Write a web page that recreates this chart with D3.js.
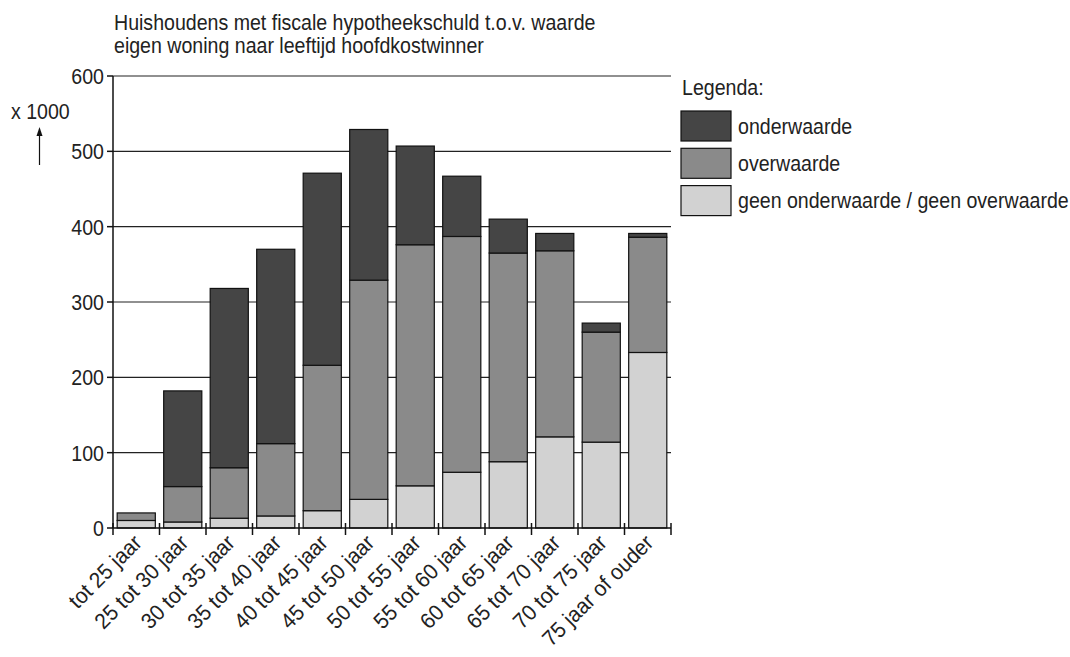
<!DOCTYPE html>
<html>
<head>
<meta charset="utf-8">
<script src="https://cdn.jsdelivr.net/npm/d3@7"></script>
<style>
  body { margin: 0; background: #fff; }
  svg text { font-family: "Liberation Sans", Arial, sans-serif; fill: #222; }
</style>
</head>
<body>
<svg width="1070" height="657"></svg>
<script>
// leeftijdsklassen
const categories = ["tot 25 jaar", "25 tot 30 jaar", "30 tot 35 jaar", "35 tot 40 jaar",
  "40 tot 45 jaar", "45 tot 50 jaar", "50 tot 55 jaar", "55 tot 60 jaar",
  "60 tot 65 jaar", "65 tot 70 jaar", "70 tot 75 jaar", "75 jaar of ouder"];
// x 1000 huishoudens
const geen = [10, 8, 13, 16, 23, 38, 56, 74, 88, 121, 114, 233];
const overwaarde = [10, 47, 67, 96, 193, 291, 320, 313, 277, 247, 146, 153];
const onderwaarde = [0, 127, 238, 258, 255, 200, 131, 80, 45, 23, 12, 5];
const yTicks = [0, 100, 200, 300, 400, 500, 600];
const seriesNames = ["onderwaarde", "overwaarde", "geen onderwaarde / geen overwaarde"];
const titleLines = ["Huishoudens met fiscale hypotheekschuld t.o.v. waarde",
  "eigen woning naar leeftijd hoofdkostwinner"];

const colors = { geen: "#d2d2d2", over: "#8a8a8a", onder: "#454545" };
const fs = 22.5, sx = 0.87; // smalle, hoge letters

let svg = d3.select("svg");
let x = d3.scaleBand().domain(categories).range([113, 671]).paddingInner(0.18).paddingOuter(0.09);
let y = d3.scaleLinear().domain([0, 600]).range([528, 76]);

function txt(g, s, tx, ty, anchor, rot, size, scx) {
  return g.append("text")
    .attr("transform", "translate(" + tx + "," + ty + ")" + (rot ? " rotate(" + rot + ")" : "") + " scale(" + (scx || sx) + ",1)")
    .attr("text-anchor", anchor || "start")
    .style("font-size", (size || fs) + "px")
    .text(s);
}

// titel
titleLines.forEach((t, i) => txt(svg, t, 114, 30 + i * 22.5));

// gridlijnen
svg.append("g").selectAll("line").data(yTicks.slice(1)).enter().append("line")
  .attr("x1", 113).attr("x2", 671)
  .attr("y1", d => y(d)).attr("y2", d => y(d))
  .style("stroke", "#222").style("stroke-width", 1.2);

// staven
let stack = d3.stack().keys(["geen", "over", "onder"]);
let rows = categories.map((c, i) => ({ cat: c, geen: geen[i], over: overwaarde[i], onder: onderwaarde[i] }));
let layers = stack(rows);
let bars = svg.append("g");
layers.forEach(layer => {
  bars.selectAll(null).data(layer.filter(d => d[1] > d[0])).enter().append("rect")
    .attr("x", d => x(d.data.cat))
    .attr("width", x.bandwidth())
    .attr("y", d => y(d[1]))
    .attr("height", d => y(d[0]) - y(d[1]))
    .style("fill", colors[layer.key])
    .style("stroke", "#111").style("stroke-width", 1.2);
});

// y-as
svg.append("line").attr("x1", 113).attr("x2", 113).attr("y1", y(600)).attr("y2", y(0))
  .style("stroke", "#111").style("stroke-width", 1.5);
let yt = svg.append("g");
yTicks.forEach(t => {
  yt.append("line").attr("x1", 107).attr("x2", 113).attr("y1", y(t)).attr("y2", y(t))
    .style("stroke", "#111").style("stroke-width", 1.5);
  txt(yt, t, 104, y(t) + 8, "end");
});

// x-as
svg.append("line").attr("x1", 113).attr("x2", 671).attr("y1", y(0)).attr("y2", y(0))
  .style("stroke", "#111").style("stroke-width", 1.5);
let step = x.step();
let bounds = d3.range(categories.length + 1).map(i => 113 + i * step);
svg.append("g").selectAll("line").data(bounds).enter().append("line")
  .attr("x1", d => d).attr("x2", d => d).attr("y1", y(0) - 5).attr("y2", y(0) + 7)
  .style("stroke", "#111").style("stroke-width", 1.5);
let xl = svg.append("g");
categories.forEach(c => {
  txt(xl, c, x(c) + x.bandwidth() / 2 + 7, 544, "end", -45, 22, 0.95);
});

// eenheid
txt(svg, "x 1000", 11, 119);
svg.append("line").attr("x1", 39.5).attr("x2", 39.5).attr("y1", 133).attr("y2", 165)
  .style("stroke", "#111").style("stroke-width", 1.2);
svg.append("path").attr("d", "M39.5,127 L36.5,136 L42.5,136 Z").style("fill", "#111");

// legenda
txt(svg, "Legenda:", 682, 95);
let keys = ["onder", "over", "geen"];
seriesNames.forEach((n, i) => {
  let ly = 111 + i * 37.3;
  svg.append("rect").attr("x", 681).attr("y", ly).attr("width", 50).attr("height", 30)
    .style("fill", colors[keys[i]]).style("stroke", "#111").style("stroke-width", 1.2);
  txt(svg, n, 738, ly + 22.5);
});
</script>
</body>
</html>
